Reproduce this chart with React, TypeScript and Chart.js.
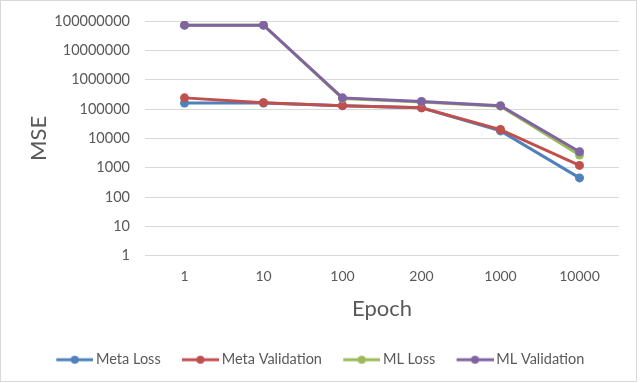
import React, { useEffect, useRef } from "react";
import { Chart, registerables } from "chart.js";

Chart.register(...registerables);

const categories = ["1", "10", "100", "200", "1000", "10000"];
const yTicks = [1, 10, 100, 1000, 10000, 100000, 1000000, 10000000, 100000000];
const metaLoss = [160000, 160000, 130000, 110000, 18000, 450];
const metaValidation = [240000, 165000, 130000, 110000, 20000, 1200];
const mlLoss = [72000000, 72000000, 230000, 175000, 125000, 2700];
const mlValidation = [72000000, 72000000, 240000, 180000, 130000, 3500];

const seriesNames = ["Meta Loss", "Meta Validation", "ML Loss", "ML Validation"];
const seriesColors = ["#4F81BD", "#C0504D", "#9BBB59", "#8064A2"];
const seriesData = [metaLoss, metaValidation, mlLoss, mlValidation];

const FONT = "Lato, 'Open Sans', sans-serif";
const TEXT = "#595959";
const BOX = 33;

function legendMarker(color: string): HTMLCanvasElement {
  const c = document.createElement("canvas");
  c.width = 42;
  c.height = 10;
  const ctx = c.getContext("2d")!;
  ctx.strokeStyle = color;
  ctx.lineWidth = 3;
  ctx.beginPath();
  ctx.moveTo(42 - 37, 5);
  ctx.lineTo(42, 5);
  ctx.stroke();
  ctx.fillStyle = color;
  ctx.beginPath();
  ctx.arc(42 - 18.5, 5, 4, 0, Math.PI * 2);
  ctx.fill();
  return c;
}

const borderPlugin = {
  id: "outerBorder",
  beforeDraw(chart: any) {
    const ctx = chart.ctx;
    ctx.save();
    ctx.fillStyle = "#ffffff";
    ctx.fillRect(0, 0, chart.width, chart.height);
    ctx.strokeStyle = "#d9d9d9";
    ctx.lineWidth = 1;
    ctx.strokeRect(0.5, 0.5, 636, 381);
    ctx.restore();
  },
};

export default function App() {
  const ref = useRef<HTMLCanvasElement>(null);
  useEffect(() => {
    if (!ref.current) return;
    const markers = seriesColors.map(legendMarker);
    const chart = new Chart(ref.current, {
      type: "line",
      data: {
        labels: categories,
        datasets: seriesNames.map((name, i) => ({
          label: name,
          data: seriesData[i],
          borderColor: seriesColors[i],
          backgroundColor: seriesColors[i],
          borderWidth: 3,
          pointRadius: 4.5,
          pointBorderWidth: 0,
          pointStyle: "circle",
          tension: 0,
          order: 4 - i,
          yAxisID: "y",
        })),
      },
      options: {
        animation: false,
        responsive: false,
        maintainAspectRatio: false,
        layout: { padding: { left: 0, right: 0, top: 21, bottom: 6 } },
        plugins: {
          tooltip: { enabled: false },
          legend: {
            position: "bottom",
            labels: {
              usePointStyle: true,
              pointStyleWidth: BOX,
              color: TEXT,
              font: { family: FONT, size: 14.5 },
              padding: 20.75,
              sort: (a: any, b: any) => a.datasetIndex - b.datasetIndex,
              generateLabels: () =>
                seriesNames.map((name, i) => ({
                  text: name,
                  datasetIndex: i,
                  pointStyle: markers[i],
                  fillStyle: seriesColors[i],
                  strokeStyle: seriesColors[i],
                  lineWidth: 0,
                  hidden: false,
                  fontColor: TEXT,
                })),
            },
          },
        },
        scales: {
          x: {
            type: "category",
            offset: true,
            grid: { display: false, drawTicks: false },
            border: { display: false },
            ticks: { color: TEXT, font: { family: FONT, size: 14 }, padding: 12, maxRotation: 0 },
            title: {
              display: true,
              text: "Epoch",
              color: TEXT,
              font: { family: FONT, size: 22 },
              padding: { top: 0, bottom: 10 },
            },
            afterFit: (scale: any) => {
              scale.height = 76;
              scale.paddingLeft = 0;
              scale.paddingRight = 0;
            },
          },
          y: {
            type: "logarithmic",
            position: "left",
            min: 1,
            max: 100000000,
            grid: { color: "#d9d9d9", lineWidth: 1, drawTicks: false },
            border: { display: false },
            afterBuildTicks: (scale: any) => {
              scale.ticks = yTicks.map((v) => ({ value: v }));
            },
            ticks: {
              color: TEXT,
              font: { family: FONT, size: 14.5 },
              padding: 15,
              callback: (v: any) => String(Math.round(Number(v))),
            },
            title: {
              display: true,
              text: "MSE",
              color: TEXT,
              font: { family: FONT, size: 22 },
              padding: { top: 26, bottom: 0 },
            },
            afterFit: (scale: any) => {
              scale.width = 145;
              scale.paddingTop = 0;
              scale.paddingBottom = 0;
            },
          },
          yRight: {
            type: "linear",
            position: "right",
            display: true,
            grid: { display: false, drawTicks: false },
            border: { display: false },
            ticks: { display: false },
            afterFit: (scale: any) => {
              scale.width = 21;
              scale.paddingTop = 0;
              scale.paddingBottom = 0;
            },
          },
        },
      },
      plugins: [borderPlugin],
    });
    return () => chart.destroy();
  }, []);
  return (
    <div style={{ position: "fixed", left: 0, top: 0, width: 640, height: 383, background: "#fff" }}>
      <canvas ref={ref} width={640} height={383} style={{ display: "block", width: 640, height: 383 }} />
    </div>
  );
}
